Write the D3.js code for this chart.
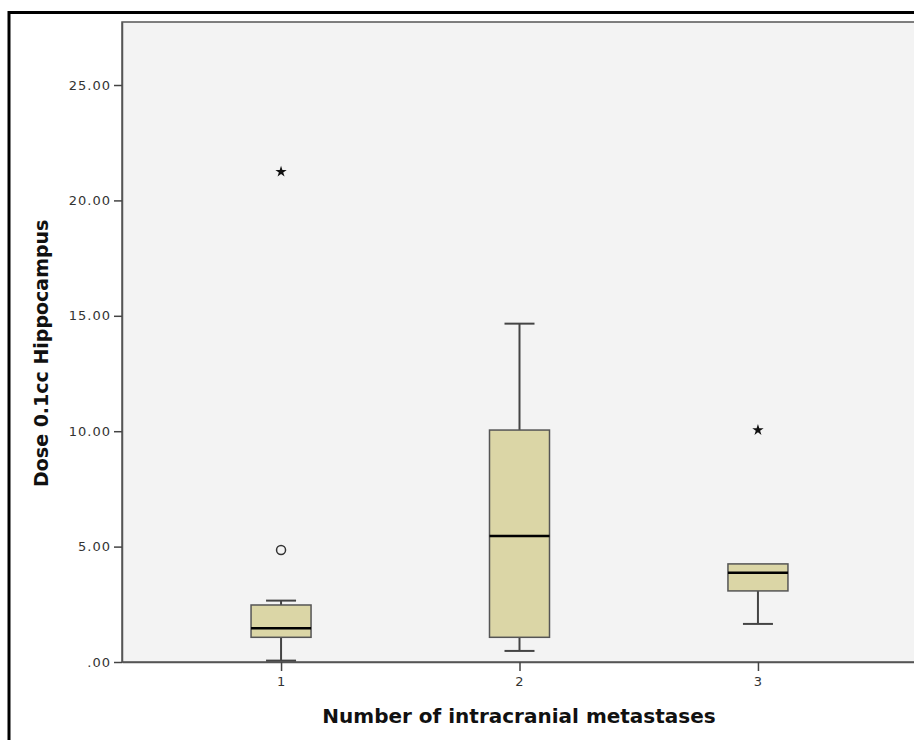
<!DOCTYPE html>
<html>
<head>
<meta charset="utf-8">
<script src="https://cdn.jsdelivr.net/npm/d3@7"></script>
<style>
  body { margin: 0; background: #fff; }
  svg { display: block; }
</style>
</head>
<body>
<div id="chart"></div>
<script>
// data
const categories = ["1", "2", "3"];
const whiskerLow = [0.06, 0.48, 1.65];
const q1 = [1.07, 1.07, 3.08];
const medians = [1.46, 5.46, 3.87];
const q3 = [2.47, 10.05, 4.25];
const whiskerHigh = [2.66, 14.66, 4.25];
const circleOutliers = [{ cat: "1", value: 4.85 }];
const starOutliers = [{ cat: "1", value: 21.24 }, { cat: "3", value: 10.05 }];
const yTicks = [0, 5, 10, 15, 20, 25];

const width = 914, height = 740;
const plotLeft = 122, plotTop = 22, plotBottom = 662, plotRight = 917;

const svg = d3.select("#chart").append("svg")
    .attr("width", width)
    .attr("height", height);

// outer frame (cropped at right / bottom)
svg.append("rect")
    .attr("x", 9).attr("y", 12.5)
    .attr("width", 1000).attr("height", 1000)
    .attr("fill", "none")
    .attr("stroke", "#000")
    .attr("stroke-width", 3);

let x = d3.scalePoint().domain(categories).range([plotLeft, plotRight]).padding(0.667);
let y = d3.scaleLinear().domain([0, 27.73]).range([plotBottom, plotTop]);

svg.append("rect")
    .attr("x", plotLeft).attr("y", plotTop)
    .attr("width", plotRight - plotLeft).attr("height", plotBottom - plotTop)
    .attr("fill", "#f3f3f3")
    .attr("stroke", "#555")
    .attr("stroke-width", 1.5);

let yAxis = svg.append("g")
    .attr("transform", `translate(${plotLeft},0)`)
    .call(d3.axisLeft(y).tickValues(yTicks).tickSize(8).tickSizeOuter(0).tickPadding(3)
        .tickFormat(d => d === 0 ? ".00" : d3.format(".2f")(d)));

let xAxis = svg.append("g")
    .attr("transform", `translate(0,${plotBottom})`)
    .call(d3.axisBottom(x).tickSize(9).tickSizeOuter(0).tickPadding(6));

[yAxis, xAxis].forEach(g => {
    g.select(".domain").attr("stroke", "#555").attr("stroke-width", 1.5);
    g.selectAll(".tick line").attr("stroke", "#444").attr("stroke-width", 1.5);
    g.selectAll(".tick text")
        .attr("fill", "#333")
        .style("font-family", "DejaVu Sans, sans-serif")
        .style("font-size", "13px")
        .style("letter-spacing", "1px");
});

let boxW = 60, capW = 30;
let boxes = categories.map((c, i) => ({
    cat: c, lo: whiskerLow[i], q1: q1[i], med: medians[i], q3: q3[i], hi: whiskerHigh[i]
}));

let g = svg.append("g");
boxes.forEach(b => {
    let cx = x(b.cat);
    // whiskers
    g.append("line")
        .attr("x1", cx).attr("x2", cx)
        .attr("y1", y(b.q3)).attr("y2", y(b.hi))
        .attr("stroke", "#444").attr("stroke-width", 2);
    g.append("line")
        .attr("x1", cx).attr("x2", cx)
        .attr("y1", y(b.q1)).attr("y2", y(b.lo))
        .attr("stroke", "#444").attr("stroke-width", 2);
    [b.lo, b.hi].forEach(v => {
        if (v === b.q3) return;
        g.append("line")
            .attr("x1", cx - capW / 2).attr("x2", cx + capW / 2)
            .attr("y1", y(v)).attr("y2", y(v))
            .attr("stroke", "#444").attr("stroke-width", 2);
    });
    g.append("rect")
        .attr("x", cx - boxW / 2).attr("width", boxW)
        .attr("y", y(b.q3)).attr("height", y(b.q1) - y(b.q3))
        .attr("fill", "#dbd6a6")
        .attr("stroke", "#555")
        .attr("stroke-width", 1.5);
    g.append("line")
        .attr("x1", cx - boxW / 2).attr("x2", cx + boxW / 2)
        .attr("y1", y(b.med)).attr("y2", y(b.med))
        .attr("stroke", "#000").attr("stroke-width", 2.5);
});

g.selectAll(".outlier")
    .data(circleOutliers)
    .join("circle")
    .attr("cx", d => x(d.cat))
    .attr("cy", d => y(d.value))
    .attr("r", 4.5)
    .attr("fill", "none")
    .attr("stroke", "#333")
    .attr("stroke-width", 1.5);

g.selectAll(".star")
    .data(starOutliers)
    .join("path")
    .attr("d", d3.symbol(d3.symbolStar, 40))
    .attr("transform", d => `translate(${x(d.cat)},${y(d.value)})`)
    .attr("fill", "#111");

svg.append("text")
    .attr("x", 519)
    .attr("y", 723)
    .attr("text-anchor", "middle")
    .style("font-family", "DejaVu Sans, sans-serif")
    .style("font-weight", "bold")
    .style("font-size", "20px")
    .attr("fill", "#111")
    .text("Number of intracranial metastases");

svg.append("text")
    .attr("transform", "translate(48,487) rotate(-90)")
    .attr("text-anchor", "start")
    .style("font-family", "DejaVu Sans, sans-serif")
    .style("font-weight", "bold")
    .style("font-size", "19px")
    .attr("fill", "#111")
    .text("Dose 0.1cc Hippocampus");
</script>
</body>
</html>
